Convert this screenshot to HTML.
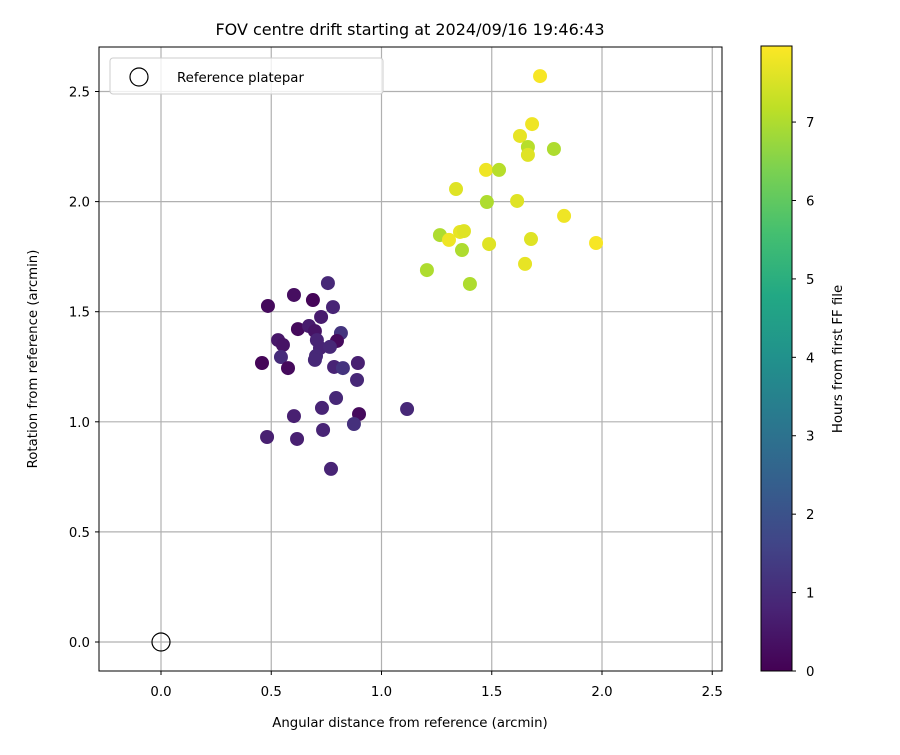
<!DOCTYPE html>
<html><head><meta charset="utf-8"><style>
body{margin:0;background:#fff;}
svg text{font-family:"DejaVu Sans","Liberation Sans",sans-serif;fill:#000;}
</style></head><body>
<svg id="chart" width="900" height="750" xmlns="http://www.w3.org/2000/svg">
<defs>
<linearGradient id="vir" x1="0" y1="1" x2="0" y2="0">
<stop offset="0" stop-color="#440154"/><stop offset="0.1" stop-color="#482475"/><stop offset="0.2" stop-color="#414487"/><stop offset="0.3" stop-color="#355f8d"/><stop offset="0.4" stop-color="#2a788e"/><stop offset="0.5" stop-color="#21918c"/><stop offset="0.6" stop-color="#22a884"/><stop offset="0.7" stop-color="#44bf70"/><stop offset="0.8" stop-color="#7ad151"/><stop offset="0.9" stop-color="#bddf26"/><stop offset="1" stop-color="#fde725"/>
</linearGradient>
<clipPath id="clip"><rect x="99" y="47" width="623" height="624"/></clipPath>
</defs>
<text x="410" y="35" font-size="16" text-anchor="middle">FOV centre drift starting at 2024/09/16 19:46:43</text>
<g id="grid"></g>
<g id="points" clip-path="url(#clip)"></g>
<rect x="99" y="47" width="623" height="624" fill="none" stroke="#000" stroke-width="1"/>
<g id="ticks"></g>
<text x="410" y="727" font-size="13.3" text-anchor="middle">Angular distance from reference (arcmin)</text>
<text transform="translate(37,359) rotate(-90)" font-size="13.3" text-anchor="middle">Rotation from reference (arcmin)</text>
<g>
<rect x="110" y="58" width="273" height="36" rx="3" fill="#fff" fill-opacity="0.8" stroke="#ccc"/>
<circle cx="139" cy="77" r="9" fill="none" stroke="#000" stroke-width="1.2"/>
<text x="177" y="82" font-size="13.3">Reference platepar</text>
</g>
<rect x="761" y="46" width="31" height="625" fill="url(#vir)" stroke="#000" stroke-width="1"/>
<g id="cbticks"></g>
<text transform="translate(842,359) rotate(-90)" font-size="13.3" text-anchor="middle">Hours from first FF file</text>
</svg>
<script>
const xTicks=["0.0","0.5","1.0","1.5","2.0","2.5"];
const xTickVals=[0,0.5,1,1.5,2,2.5];
const yTicks=["0.0","0.5","1.0","1.5","2.0","2.5"];
const yTickVals=[0,0.5,1,1.5,2,2.5];
const cbTicks=[0,1,2,3,4,5,6,7];
const xs=[.757,.603,.689,.485,.780,.726,.621,.671,.698,.816,.798,.531,.553,.707,.721,.766,.544,.703,.698,.458,.576,.785,.825,.893,.889,.794,.730,1.116,.603,.898,.875,.735,.481,.617,.771,
1.719,1.683,1.628,1.664,1.782,1.664,1.474,1.533,1.338,1.478,1.615,1.828,1.265,1.306,1.356,1.374,1.488,1.678,1.973,1.365,1.651,1.206,1.401];
const ys=[1.630,1.576,1.553,1.526,1.521,1.476,1.421,1.435,1.412,1.403,1.367,1.371,1.349,1.371,1.335,1.340,1.294,1.299,1.281,1.267,1.244,1.249,1.244,1.267,1.190,1.108,1.063,1.058,1.026,1.035,.990,.963,.931,.922,.786,
2.570,2.352,2.298,2.248,2.239,2.212,2.144,2.144,2.057,1.998,2.003,1.935,1.848,1.826,1.862,1.866,1.807,1.830,1.812,1.780,1.717,1.689,1.626];
const hours=[0.9,0.3,0.1,0.2,0.8,0.6,0.2,0.6,0.4,1.2,0.2,0.5,0.4,0.8,0.8,0.9,1.0,0.9,0.9,0.1,0.2,0.8,1.2,0.7,0.9,0.9,0.8,0.9,0.7,0.2,1.1,0.8,0.7,0.7,0.8,
7.9,7.8,7.7,7.1,7.0,7.6,7.8,7.1,7.6,7.0,7.6,7.8,7.0,7.8,7.7,7.6,7.6,7.6,7.9,7.0,7.7,7.0,7.0];
const ns="http://www.w3.org/2000/svg";
const X=v=>161+v*220.5, Y=v=>642-v*220.2;
const VMAX=7.97, CB=h=>671-h/VMAX*625;
const stops=["#440154","#482475","#414487","#355f8d","#2a788e","#21918c","#22a884","#44bf70","#7ad151","#bddf26","#fde725"];
function hex(c){return [1,3,5].map(i=>parseInt(c.substr(i,2),16));}
function viridis(t){t=Math.max(0,Math.min(1,t));const p=t*10,i=Math.min(9,Math.floor(p)),f=p-i;const a=hex(stops[i]),b=hex(stops[i+1]);return "rgb("+a.map((v,k)=>Math.round(v+(b[k]-v)*f)).join(",")+")";}
function mk(tag,at,parent){const e=document.createElementNS(ns,tag);for(const k in at)e.setAttribute(k,at[k]);parent.appendChild(e);return e;}
const grid=document.getElementById('grid'),ticks=document.getElementById('ticks'),pts=document.getElementById('points'),cbt=document.getElementById('cbticks');
xTickVals.forEach((v,i)=>{
const g=mk('line',{x1:X(v),x2:X(v),y1:47,y2:671,stroke:"#b0b0b0","stroke-width":1.2},grid);


mk('line',{x1:X(v),x2:X(v),y1:671,y2:675,stroke:"#000"},ticks);
const t=mk('text',{x:X(v),y:696,"font-size":13.3,"text-anchor":"middle"},ticks);t.textContent=xTicks[i];


});
yTickVals.forEach((v,i)=>{
const g=mk('line',{x1:99,x2:722,y1:Y(v),y2:Y(v),stroke:"#b0b0b0","stroke-width":1.2},grid);


mk('line',{x1:95,x2:99,y1:Y(v),y2:Y(v),stroke:"#000"},ticks);
const t=mk('text',{x:90,y:Y(v)+5,"font-size":13.3,"text-anchor":"end"},ticks);t.textContent=yTicks[i];


});
xs.forEach((x,i)=>{
const c=mk('circle',{cx:X(x),cy:Y(ys[i]),r:7,fill:viridis(hours[i]/VMAX)},pts);


});
const ref=mk('circle',{cx:X(0),cy:Y(0),r:9,fill:"none",stroke:"#000","stroke-width":1.2},pts);


cbTicks.forEach(h=>{
mk('line',{x1:792,x2:796,y1:CB(h),y2:CB(h),stroke:"#000"},cbt);
const t=mk('text',{x:806,y:CB(h)+5,"font-size":13.3},cbt);t.textContent=h;


});
</script>
</body></html>
